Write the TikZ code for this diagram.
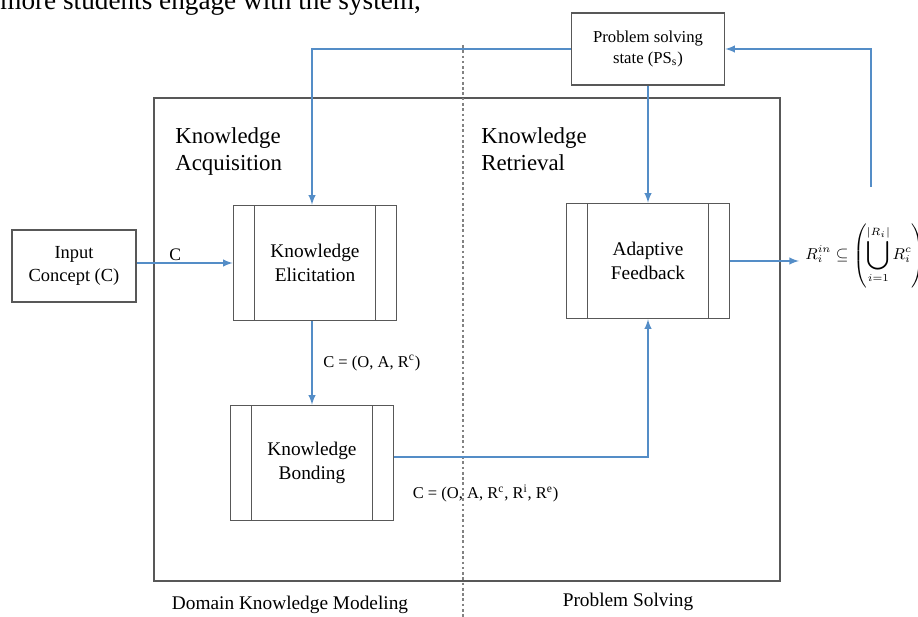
\documentclass[tikz,border=0pt]{standalone}
\usepackage{fontspec}
\setmainfont{Liberation Serif}
\usepackage{amsmath}
\usepackage{amssymb}
\usepackage{graphicx}
\definecolor{flecha}{RGB}{84,141,199}
\definecolor{borde}{RGB}{88,88,88}
\definecolor{punteado}{RGB}{130,130,130}
\usetikzlibrary{arrows,positioning,calc}
\newcommand{\bigU}{\mathop{\vcenter{\hbox{\scalebox{1.35}{$\displaystyle\bigcup$}}}}\limits}
\tikzstyle{flow}   =[->, >=latex, draw=flecha, line width=0.9pt]
\tikzstyle{plain}  =[rectangle, draw=borde, line width=0.9pt,
                    fill=white, align=center, inner sep=2pt]
\tikzstyle{process}=[plain, minimum width=3.26cm, minimum height=2.3cm,
                    font=\fontsize{11}{13.5}\selectfont,
                    path picture={
                      \draw[borde, line width=0.9pt]
                        ([xshift=0.42cm]path picture bounding box.north west) --
                        ([xshift=0.42cm]path picture bounding box.south west);
                      \draw[borde, line width=0.9pt]
                        ([xshift=-0.42cm]path picture bounding box.north east) --
                        ([xshift=-0.42cm]path picture bounding box.south east);}]
\tikzstyle{tag}    =[font=\fontsize{9.4}{11}\selectfont, inner sep=1pt]
\tikzstyle{area}   =[font=\fontsize{13}{15.5}\selectfont, align=left,
                    anchor=north west, inner sep=0pt]
\tikzstyle{part}   =[font=\fontsize{11}{13}\selectfont, inner sep=0pt]

\begin{document}
\begin{tikzpicture}[x=0.02cm, y=-0.02cm]
    \useasboundingbox (0,0) rectangle (918,617);
    \clip (0,0) rectangle (918,617);

    % cut line of page text
    \node[anchor=base west, inner sep=0pt, font=\fontsize{15.5}{18}\selectfont]
        (cut) at (0,10) {more students engage with the system,};

    % frame and divider
    \draw[borde, line width=0.9pt] (154,98) rectangle (780,581);
    \draw[punteado, line width=0.7pt, dash pattern=on 1.5pt off 1.5pt]
        (463,45) -- (463,617);

    \node[area] (acq) at (175,127) {Knowledge\\Acquisition};
    \node[area] (ret) at (481,127) {Knowledge\\Retrieval};
    \node[part] (dkm) at (290,605) {Domain Knowledge Modeling};
    \node[part] (psl) at (628,602) {Problem Solving};

    % boxes
    \node[plain, minimum width=2.48cm, minimum height=1.44cm,
          font=\fontsize{10.5}{13}\selectfont] (input) at (74,266) {Input\\Concept (C)};
    \node[plain, minimum width=3.06cm, minimum height=1.44cm,
          font=\fontsize{9.5}{12}\selectfont] (ps) at (648,49) {Problem solving\\state (PS\textsubscript{s})};
    \node[process] (elic)  at (315,263) {Knowledge\\Elicitation};
    \node[process] (bond)  at (312,463) {Knowledge\\Bonding};
    \node[process] (adapt) at (648,261) {Adaptive\\Feedback};
    \node[inner sep=0pt, anchor=west, font=\fontsize{8.6}{10.5}\selectfont] (relev) at (805,256)
        {$\displaystyle R_i^{in} \subseteq \left(\bigU_{i=1}^{|R_i|} R_i^c\right)$};

    % connectors
    \draw[flow] (input.east |- elic.west) -- node[tag, font=\fontsize{10}{12}\selectfont,
        above, pos=0.4]{C} (elic.west);
    \draw[flow] (elic.south -| bond.north) -- node[tag, right=5pt]{C = (O, A, R\textsuperscript{c})} (bond.north);
    \draw[flow] ([yshift=0.12cm]bond.east) -| node[tag, pos=0.18, below=0.5cm]
        {C = (O, A, R\textsuperscript{c}, R\textsuperscript{i}, R\textsuperscript{e})} (adapt.south);
    \draw[flow] (ps.south) -- (adapt.north);
    \draw[flow] (ps.west) -| (elic.north -| bond.north);
    \draw[flow] (adapt.east) -- ([xshift=-0.12cm]adapt.east -| relev.west);
    \coordinate (lift) at (871,187);
    \draw[flow] (lift) |- (ps.east);

\end{tikzpicture}
\end{document}
